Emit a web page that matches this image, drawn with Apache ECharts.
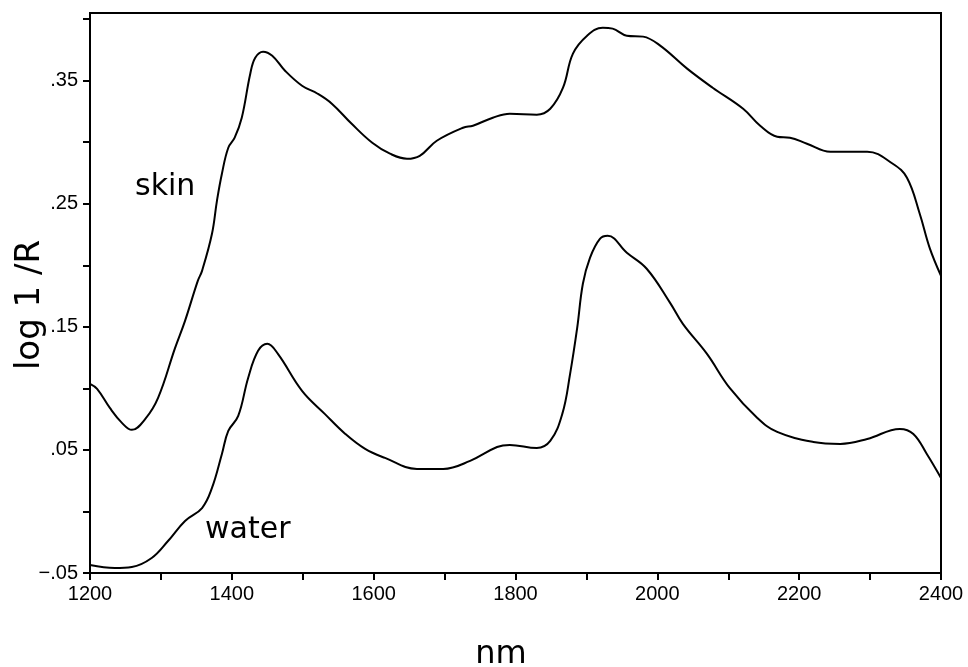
<!DOCTYPE html>
<html>
<head>
<meta charset="utf-8">
<script src="https://cdn.jsdelivr.net/npm/echarts@6/dist/echarts.min.js"></script>
<style>
html,body{margin:0;padding:0;background:#fff;}
#chart{width:968px;height:667px;}
</style>
</head>
<body>
<div id="chart"></div>
<script>
// ---- data ----
var skinNm = [1200,1210,1228,1245,1259,1278,1296,1320,1334,1352,1358,1372,1379,1386,1395,1404,1414,1426,1433,1444,1457,1475,1499,1521,1541,1569,1598,1623,1647,1665,1689,1726,1740,1768,1792,1830,1849,1867,1881,1901,1923,1937,1957,1980,2004,2042,2078,2121,2145,2169,2187,2211,2244,2296,2332,2352,2370,2384,2400];
var skinVal = [0.1037,0.0996,0.0841,0.0720,0.0663,0.0752,0.0923,0.1329,0.1549,0.1874,0.1955,0.2256,0.2524,0.2744,0.2955,0.3037,0.3199,0.3557,0.3687,0.3736,0.3703,0.3581,0.3459,0.3394,0.3313,0.3150,0.2996,0.2907,0.2866,0.2890,0.3012,0.3118,0.3134,0.3199,0.3232,0.3224,0.3272,0.3443,0.3720,0.3866,0.3931,0.3923,0.3866,0.3858,0.3785,0.3598,0.3443,0.3272,0.3134,0.3045,0.3037,0.2988,0.2923,0.2923,0.2825,0.2711,0.2419,0.2142,0.1915];

var waterNm = [1200,1235,1259,1287,1310,1334,1358,1372,1386,1395,1409,1423,1437,1450,1465,1499,1531,1560,1588,1616,1661,1698,1736,1774,1792,1830,1849,1866,1877,1887,1895,1905,1919,1930,1957,1985,2018,2036,2070,2102,2141,2169,2220,2258,2296,2342,2361,2380,2400];
var waterVal = [-0.0435,-0.0459,-0.0451,-0.0378,-0.0240,-0.0077,0.0028,0.0191,0.0467,0.0654,0.0776,0.1085,0.1305,0.1362,0.1280,0.0980,0.0793,0.0630,0.0508,0.0435,0.0346,0.0346,0.0411,0.0524,0.0541,0.0516,0.0573,0.0793,0.1118,0.1492,0.1850,0.2061,0.2215,0.2240,0.2102,0.1972,0.1695,0.1524,0.1280,0.1004,0.0760,0.0646,0.0565,0.0549,0.0589,0.0671,0.0630,0.0467,0.0272];

var yTickValues = [-0.05,0,0.05,0.10,0.15,0.20,0.25,0.30,0.35,0.40];
var yLabelValues = [-0.05,0.05,0.15,0.25,0.35];
var xTickValues = [1200,1300,1400,1500,1600,1700,1800,1900,2000,2100,2200,2300,2400];
var xLabelValues = [1200,1400,1600,1800,2000,2200,2400];

var curveLabels = ['skin','water'];
var xAxisTitle = 'nm';
var yAxisTitle = 'log 1 /R';

function pairs(xs, ys){ return xs.map(function(x,i){ return [x, ys[i]]; }); }

var chart = echarts.init(document.getElementById('chart'), null, {renderer:'canvas'});
var font = 'Liberation Sans, Arial, sans-serif';
var titleFont = '"DejaVu Sans", sans-serif';
chart.setOption({
  backgroundColor:'#fff',
  animation:false,
  grid:{left:90,right:27,top:13,bottom:94,containLabel:false,outerBoundsMode:'none',
    show:true,borderColor:'#000',borderWidth:2,backgroundColor:'transparent'},
  xAxis:{
    type:'value',min:1200,max:2400,interval:100,
    axisLine:{show:true,onZero:false,lineStyle:{color:'#000',width:2}},
    axisTick:{show:true,inside:false,length:7,lineStyle:{color:'#000',width:2},customValues:xTickValues},
    axisLabel:{color:'#000',fontFamily:font,fontSize:20,margin:11,customValues:xLabelValues,
      formatter:function(v){ return String(v); }},
    splitLine:{show:false}
  },
  yAxis:{
    type:'value',min:-0.05,max:0.405,interval:0.05,
    axisLine:{show:true,onZero:false,lineStyle:{color:'#000',width:2}},
    axisTick:{show:true,inside:false,length:7,lineStyle:{color:'#000',width:2},customValues:yTickValues},
    axisLabel:{color:'#000',fontFamily:font,fontSize:20,margin:12,customValues:yLabelValues,
      formatter:function(v){
        var s = Math.abs(v).toFixed(2).replace(/^0/,'');
        return (v < 0 ? '\u2212' : '') + s;
      }},
    splitLine:{show:false}
  },
  series:[
    {name:curveLabels[0],type:'line',data:pairs(skinNm,skinVal),smooth:0.4,showSymbol:false,
      lineStyle:{color:'#000',width:2},itemStyle:{color:'#000'}},
    {name:curveLabels[1],type:'line',data:pairs(waterNm,waterVal),smooth:0.4,showSymbol:false,
      lineStyle:{color:'#000',width:2},itemStyle:{color:'#000'}}
  ],
  graphic:[
    {type:'text',left:135,top:172,style:{text:curveLabels[0],font:'30px ' + titleFont,fill:'#000'}},
    {type:'text',left:205,top:515,style:{text:curveLabels[1],font:'30px ' + titleFont,fill:'#000'}},
    {type:'text',x:501,y:655,style:{text:xAxisTitle,font:'32px ' + titleFont,fill:'#000',align:'center',verticalAlign:'middle'}},
    {type:'text',x:30,y:305,rotation:Math.PI/2,style:{text:yAxisTitle,font:'34px ' + titleFont,fill:'#000',align:'center',verticalAlign:'middle'}}
  ]
});
</script>
</body>
</html>
